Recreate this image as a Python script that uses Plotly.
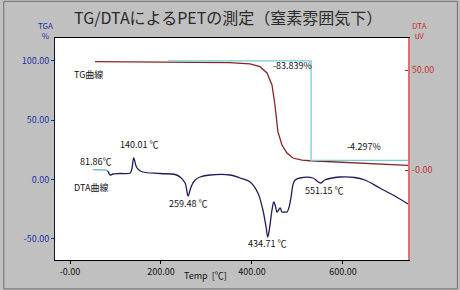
import plotly.graph_objects as go

# ---------------- data ----------------
tg_temp = [55, 150, 215, 286, 350, 395.6, 417.6, 433, 444, 450.5, 457.1, 466, 477, 490, 510, 527.5, 580, 650, 743]
tg_pct = [99.4, 99.3, 99.2, 99.0, 98.5, 97.4, 95.1, 89.8, 79.7, 62.8, 40.1, 29.1, 22.3, 18.1, 16.3, 15.8, 14.8, 13.6, 11.9]

step_temp = [215, 530, 530, 743]
step_pct = [100.0, 100.0, 16.161, 16.161]

dta_light_temp = [50, 65, 78, 82]
dta_light_uv = [0.2, 0.1, 0.0, -0.4]

dta_temp = [82, 84, 88, 94.5, 110, 132, 136, 140, 146, 151.6, 160, 198, 231, 242, 253, 259.5, 264, 268, 275, 286, 308,
            352, 374, 396, 413, 424, 431, 434.7, 439, 444, 448, 452, 455, 462, 466, 472, 477, 481, 486, 490, 495, 505,
            534, 543, 551.2, 560, 593, 626, 648, 681, 714, 743]
dta_uv = [-0.4, -0.8, -2.5, -2.0, -1.75, -1.5, 0.5, 6.0, 1.5, 0.0, -1.0, -1.75, -2.25, -3.5, -6.5, -13.0, -10.0, -7.5,
          -5.0, -3.5, -2.5, -2.5, -4.0, -6.0, -11.5, -20.0, -28.5, -33.5, -28.5, -20.0, -16.0, -18.5, -21.0, -19.0,
          -21.0, -21.0, -21.0, -19.0, -13.5, -7.5, -5.0, -4.0, -4.0, -5.5, -6.5, -5.0, -3.5, -3.75, -5.0, -9.0, -13.0, -17.0]

x_ticks = [0, 200, 400, 600]
x_ticktext = ["-0.00", "200.00", "400.00", "600.00"]
y_ticks = [100, 50, 0, -50]
y_ticktext = ["100.00", "50.00", "0.00", "-50.00"]
y2_ticks = [50, 0]
y2_ticktext = ["50.00", "-0.00"]

peak_labels = ["81.86℃", "140.01 ℃", "259.48 ℃", "434.71 ℃", "551.15 ℃"]

# ---------------- figure ----------------
FONT = "Noto Sans CJK JP, DejaVu Sans, sans-serif"
fig = go.Figure()

fig.add_trace(go.Scatter(x=tg_temp, y=tg_pct, mode="lines", line=dict(color="#8a2424", width=1.3),
                         yaxis="y", showlegend=False, hoverinfo="skip"))
fig.add_trace(go.Scatter(x=step_temp, y=step_pct, mode="lines", line=dict(color="#70d0d8", width=1.3),
                         yaxis="y", showlegend=False, hoverinfo="skip"))
fig.add_trace(go.Scatter(x=dta_light_temp, y=dta_light_uv, mode="lines", line=dict(color="#70b8d8", width=1.3),
                         yaxis="y2", showlegend=False, hoverinfo="skip"))
fig.add_trace(go.Scatter(x=dta_temp, y=dta_uv, mode="lines", line=dict(color="#1c1c5c", width=1.3),
                         yaxis="y2", showlegend=False, hoverinfo="skip", line_shape="spline"))

ann = []
def txt(x, y, t, xref="x", yref="y", color="#111", size=9, xanchor="left", yanchor="middle"):
    ann.append(dict(x=x, y=y, xref=xref, yref=yref, text=t, showarrow=False,
                    font=dict(family=FONT, size=size, color=color), xanchor=xanchor, yanchor=yanchor))

# title
txt(0.49, 1.095, "TG/DTAによるPETの測定（窒素雰囲気下）", xref="paper", yref="paper", color="#2a2a2a",
    size=16, xanchor="center", yanchor="middle")
# axis unit labels
txt(0.0, 1.09, "TGA<br>%", xref="paper", yref="paper", color="#2030a0", size=8, xanchor="right", yanchor="top")
txt(1.005, 1.09, "DTA<br>uV", xref="paper", yref="paper", color="#c83030", size=8, xanchor="left", yanchor="top")
txt(0.425, -0.07, "Temp &nbsp;[℃]", xref="paper", yref="paper", color="#111", size=9, xanchor="center", yanchor="middle")

# curve names
txt(5, 88.5, "TG曲線")
txt(5, -6.5, "DTA曲線")
# peaks (positions on y2 scale)
txt(18, 4.5, peak_labels[0], yref="y2")
txt(106, 13, peak_labels[1], yref="y2")
txt(214, -16.5, peak_labels[2], yref="y2")
txt(386, -36.5, peak_labels[3], yref="y2")
txt(513, -10, peak_labels[4], yref="y2")
# step values
txt(441, 96.5, "-83.839%")
txt(604, 27.5, "-4.297%")

fig.update_layout(
    width=460, height=290,
    margin=dict(l=55, r=52, t=38, b=30),
    paper_bgcolor="#c0c0c0", plot_bgcolor="#ffffff",
    annotations=ann,
    xaxis=dict(range=[-33, 743], tickvals=x_ticks, ticktext=x_ticktext, showgrid=False, zeroline=False,
               ticks="outside", ticklen=3, tickcolor="#000", showline=True, linecolor="#000", linewidth=1,
               mirror=True, tickfont=dict(family=FONT, size=9, color="#111")),
    yaxis=dict(range=[-67.9, 119.3], tickvals=y_ticks, ticktext=y_ticktext, showgrid=False, zeroline=False,
               ticks="outside", ticklen=3, tickcolor="#203080", showline=True, linecolor="#101040", linewidth=1,
               tickfont=dict(family=FONT, size=9, color="#2030a0")),
    yaxis2=dict(range=[-45, 66], overlaying="y", side="right", tickvals=y2_ticks, ticktext=y2_ticktext,
                showgrid=False, zeroline=False, ticks="inside", ticklen=3, tickcolor="#803030",
                showline=True, linecolor="#e07070", linewidth=2,
                tickfont=dict(family=FONT, size=9, color="#c83030")),
    shapes=[dict(type="rect", xref="paper", yref="paper", x0=-0.145, x1=1.14, y0=-0.13, y1=1.165,
                 line=dict(color="#707070", width=1))],
)

fig.write_html("out.html")
